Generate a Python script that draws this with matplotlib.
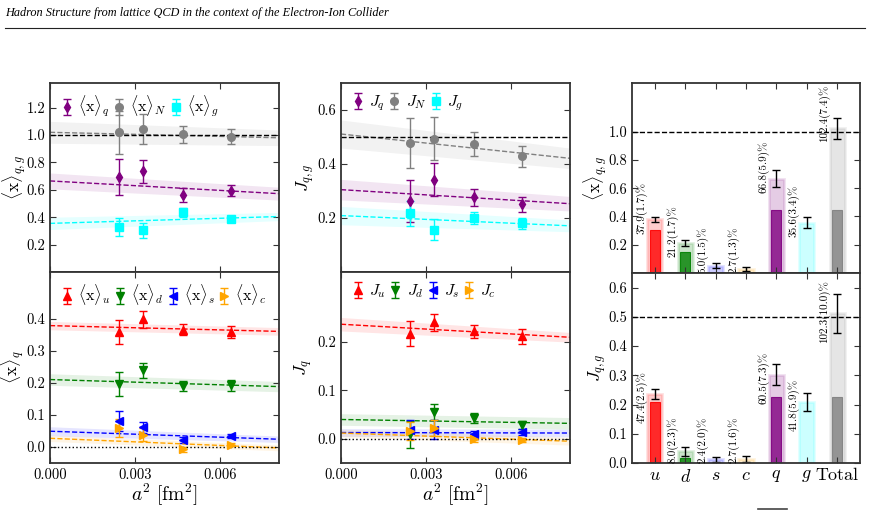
import matplotlib
matplotlib.use("Agg")
import matplotlib.pyplot as plt
from matplotlib.colors import to_rgba
from matplotlib.lines import Line2D
from matplotlib.ticker import FormatStrFormatter

plt.rcParams.update({
    "font.family": "serif",
    "font.serif": ["cmr10", "DejaVu Serif"],
    "mathtext.fontset": "cm",
    "axes.formatter.use_mathtext": True,
    "axes.unicode_minus": False,
    "axes.edgecolor": "#333333",
    "axes.linewidth": 1.3,
    "xtick.direction": "in", "ytick.direction": "in",
    "xtick.top": True, "ytick.right": True,
    "xtick.major.size": 4, "ytick.major.size": 4,
    "xtick.color": "#333333", "ytick.color": "#333333",
    "xtick.labelcolor": "black", "ytick.labelcolor": "black",
    "xtick.labelsize": 10.5, "ytick.labelsize": 10.5,
})

# lattice spacings a^2 [fm^2]
a2 = [0.00245, 0.00329, 0.00471, 0.00639]
fit_x = [0.0, 0.0081]

# momentum fractions (top-left)
xq = [0.692, 0.734, 0.564, 0.595];  xq_err = [0.13, 0.085, 0.05, 0.04]
xN = [1.019, 1.041, 1.005, 0.988];  xN_err = [0.155, 0.11, 0.063, 0.057]
xg = [0.329, 0.305, 0.435, 0.389];  xg_err = [0.067, 0.055, 0.035, 0.015]
xq_fit = [0.665, 0.572]; xq_band = [0.058, 0.047]
xN_fit = [1.02, 0.98];   xN_band = [0.08, 0.057]
xg_fit = [0.355, 0.405]; xg_band = [0.045, 0.03]

# flavour momentum fractions (bottom-left)
xu = [0.358, 0.398, 0.365, 0.358];  xu_err = [0.038, 0.026, 0.017, 0.019]
xd = [0.197, 0.239, 0.189, 0.192];  xd_err = [0.038, 0.023, 0.016, 0.018]
xs = [0.081, 0.062, 0.022, 0.035];  xs_err = [0.031, 0.017, 0.010, 0.006]
xc = [0.058, 0.038, -0.007, 0.007]; xc_err = [0.028, 0.020, 0.008, 0.005]
xu_fit = [0.378, 0.360]; xu_band = [0.013, 0.012]
xd_fit = [0.210, 0.188]; xd_band = [0.018, 0.016]
xs_fit = [0.049, 0.024]; xs_band = [0.014, 0.010]
xc_fit = [0.027, -0.003]; xc_band = [0.010, 0.009]

# angular momentum (top-middle)
Jq = [0.264, 0.341, 0.276, 0.251];  Jq_err = [0.078, 0.061, 0.033, 0.028]
JN = [0.478, 0.494, 0.473, 0.429];  JN_err = [0.094, 0.08, 0.044, 0.039]
Jg = [0.217, 0.156, 0.200, 0.180];  Jg_err = [0.046, 0.039, 0.024, 0.02]
Jq_fit = [0.305, 0.253]; Jq_band = [0.038, 0.027]
JN_fit = [0.511, 0.421]; JN_band = [0.052, 0.038]
Jg_fit = [0.209, 0.171]; Jg_band = [0.034, 0.022]

# flavour angular momentum (bottom-middle)
Ju = [0.217, 0.241, 0.222, 0.212];  Ju_err = [0.026, 0.018, 0.013, 0.015]
Jd = [0.009, 0.055, 0.043, 0.029];  Jd_err = [0.027, 0.017, 0.010, 0.008]
Js = [0.019, 0.019, 0.010, 0.014];  Js_err = [0.020, 0.019, 0.006, 0.006]
Jc = [0.016, 0.022, -0.001, -0.002]; Jc_err = [0.019, 0.016, 0.006, 0.004]
Ju_fit = [0.237, 0.210]; Ju_band = [0.014, 0.010]
Jd_fit = [0.040, 0.032]; Jd_band = [0.012, 0.012]
Js_fit = [0.013, 0.012]; Js_band = [0.008, 0.008]
Jc_fit = [0.012, -0.005]; Jc_band = [0.008, 0.008]

# continuum-limit bars (right)
bar_labels = ["$u$", "$d$", "$s$", "$c$", "$q$", "$g$", "Total"]
bar_colors = ["red", "green", "blue", "orange", "purple", "cyan", "gray"]
x_tot = [0.379, 0.212, 0.050, 0.027, 0.668, 0.356, 1.024]
x_tot_err = [0.018, 0.019, 0.018, 0.014, 0.062, 0.038, 0.075]
x_conn = [0.305, 0.146, 0.0, 0.0, 0.444, 0.0, 0.449]
x_pct = ["37.9(1.7)%", "21.2(1.7)%", "5.0(1.5)%", "2.7(1.3)%",
         "66.8(5.9)%", "35.6(3.4)%", "102.4(7.4)%"]
J_tot = [0.237, 0.040, 0.012, 0.0135, 0.3025, 0.209, 0.5115]
J_tot_err = [0.017, 0.015, 0.010, 0.009, 0.037, 0.030, 0.066]
J_conn = [0.210, 0.016, 0.0, 0.0, 0.226, 0.0, 0.227]
J_pct = ["47.4(2.5)%", "8.0(2.3)%", "2.4(2.0)%", "2.7(1.6)%",
         "60.5(7.3)%", "41.8(5.9)%", "102.3(10.0)%"]

W, H = 871, 513
fig = plt.figure(figsize=(W / 100, H / 100), dpi=100)


def box(x0, x1, y0, y1):
    return [x0 / W, 1 - y1 / H, (x1 - x0) / W, (y1 - y0) / H]


ax_tl = fig.add_axes(box(50, 279, 83, 272))
ax_bl = fig.add_axes(box(50, 279, 272, 463))
ax_tm = fig.add_axes(box(341, 570, 83, 272))
ax_bm = fig.add_axes(box(341, 570, 272, 463))
ax_tr = fig.add_axes(box(632, 860, 83, 273))
ax_br = fig.add_axes(box(632, 860, 273, 463))


def series(ax, y, yerr, fit, band, color, marker, label, ms=5.5):
    lo = [f - b for f, b in zip(fit, band)]
    hi = [f + b for f, b in zip(fit, band)]
    ax.fill_between(fit_x, lo, hi, color=color, alpha=0.1, lw=0)
    ax.plot(fit_x, fit, ls="--", color=color, lw=1)
    ax.errorbar(a2, y, yerr=yerr, fmt=marker, color=color, ms=ms,
                capsize=3, elinewidth=1, capthick=1, label=label)


def legend(ax, ncol):
    ax.legend(loc="upper left", ncol=ncol, frameon=False, fontsize=11.5,
              handlelength=0.8, handletextpad=0.3, columnspacing=0.2,
              borderaxespad=0.25)


def ylabel(ax, text, xpos):
    ax.set_ylabel(text, fontsize=12.5)
    ax.yaxis.set_label_coords(xpos, 0.5)


X = r"\langle \mathrm{x} \rangle"

series(ax_tl, xq, xq_err, xq_fit, xq_band, "purple", "d", rf"${X}_q$")
series(ax_tl, xN, xN_err, xN_fit, xN_band, "gray", "o", rf"${X}_N$")
series(ax_tl, xg, xg_err, xg_fit, xg_band, "cyan", "s", rf"${X}_g$")
ax_tl.axhline(1.0, color="k", ls="--", lw=1)
ax_tl.set_ylim(0, 1.38)
ax_tl.set_yticks([0.2, 0.4, 0.6, 0.8, 1.0, 1.2])
ylabel(ax_tl, rf"${X}_{{q,g}}$", -0.095)
legend(ax_tl, 3)

series(ax_bl, xu, xu_err, xu_fit, xu_band, "red", "^", rf"${X}_u$")
series(ax_bl, xd, xd_err, xd_fit, xd_band, "green", "v", rf"${X}_d$")
series(ax_bl, xs, xs_err, xs_fit, xs_band, "blue", "<", rf"${X}_s$")
series(ax_bl, xc, xc_err, xc_fit, xc_band, "orange", ">", rf"${X}_c$")
ax_bl.axhline(0.0, color="k", ls=":", lw=1)
ax_bl.set_ylim(-0.05, 0.545)
ax_bl.set_yticks([0.0, 0.1, 0.2, 0.3, 0.4])
ylabel(ax_bl, rf"${X}_q$", -0.105)
legend(ax_bl, 4)

series(ax_tm, Jq, Jq_err, Jq_fit, Jq_band, "purple", "d", r"$J_q$")
series(ax_tm, JN, JN_err, JN_fit, JN_band, "gray", "o", r"$J_N$")
series(ax_tm, Jg, Jg_err, Jg_fit, Jg_band, "cyan", "s", r"$J_g$")
ax_tm.axhline(0.5, color="k", ls="--", lw=1)
ax_tm.set_ylim(0, 0.70)
ax_tm.set_yticks([0.2, 0.4, 0.6])
ylabel(ax_tm, r"$J_{q,g}$", -0.105)
legend(ax_tm, 3)

series(ax_bm, Ju, Ju_err, Ju_fit, Ju_band, "red", "^", r"$J_u$")
series(ax_bm, Jd, Jd_err, Jd_fit, Jd_band, "green", "v", r"$J_d$")
series(ax_bm, Js, Js_err, Js_fit, Js_band, "blue", "<", r"$J_s$")
series(ax_bm, Jc, Jc_err, Jc_fit, Jc_band, "orange", ">", r"$J_c$")
ax_bm.axhline(0.0, color="k", ls=":", lw=1)
ax_bm.set_ylim(-0.05, 0.345)
ax_bm.set_yticks([0.0, 0.1, 0.2])
ylabel(ax_bm, r"$J_q$", -0.115)
legend(ax_bm, 4)

for ax in (ax_tl, ax_bl, ax_tm, ax_bm):
    ax.set_xlim(fit_x)
    ax.set_xticks([0.0, 0.003, 0.006])
    ax.xaxis.set_major_formatter(FormatStrFormatter("%.3f"))
    ax.yaxis.set_major_formatter(FormatStrFormatter("%.1f"))
for ax in (ax_tl, ax_tm):
    ax.tick_params(labelbottom=False)
for ax in (ax_bl, ax_bm):
    ax.set_xlabel(r"$a^2\ [\mathrm{fm}^2]$", fontsize=14, labelpad=0)


def bars(ax, tot, err, conn, pct):
    pos = list(range(len(tot)))
    for i in pos:
        c = bar_colors[i]
        ax.bar(i, tot[i], width=0.5, color=to_rgba(c, 0.2),
               edgecolor=to_rgba(c, 0.12), lw=2)
        if conn[i] > 0:
            ax.bar(i, conn[i], width=0.33, color=to_rgba(c, 0.8),
                   edgecolor=to_rgba(c, 0.9), lw=0.8)
        ax.text(i - 0.42, max(tot[i] - 0.1, 0), pct[i], rotation=90,
                ha="center", va="bottom", fontsize=8)
    ax.errorbar(pos, tot, yerr=err, fmt="none", ecolor="k", capsize=3,
                elinewidth=1, capthick=1)
    ax.set_xlim(-0.75, 6.75)
    ax.set_xticks(pos)
    ax.yaxis.set_major_formatter(FormatStrFormatter("%.1f"))


bars(ax_tr, x_tot, x_tot_err, x_conn, x_pct)
ax_tr.axhline(1.0, color="k", ls="--", lw=1)
ax_tr.set_ylim(0, 1.345)
ax_tr.set_yticks([0.2, 0.4, 0.6, 0.8, 1.0])
ax_tr.tick_params(labelbottom=False)
ylabel(ax_tr, rf"${X}_{{q,g}}$", -0.1)

bars(ax_br, J_tot, J_tot_err, J_conn, J_pct)
ax_br.axhline(0.5, color="k", ls="--", lw=1)
ax_br.set_ylim(0, 0.65)
ax_br.set_yticks([0.0, 0.1, 0.2, 0.3, 0.4, 0.5, 0.6])
ax_br.set_xticklabels(bar_labels, fontsize=13)
ylabel(ax_br, r"$J_{q,g}$", -0.1)

# page header
fig.text(5 / W, 1 - 13 / H,
         "Hadron Structure from lattice QCD in the context of the Electron-Ion Collider",
         family="Liberation Serif", style="italic", fontsize=8.8, va="center")
fig.add_artist(Line2D([5 / W, 865 / W], [1 - 28 / H] * 2, color="#222222", lw=0.8))
fig.add_artist(Line2D([758 / W, 787 / W], [1 - 509 / H] * 2, color="#444444", lw=1.2))

fig.savefig("out.png", dpi=100)
